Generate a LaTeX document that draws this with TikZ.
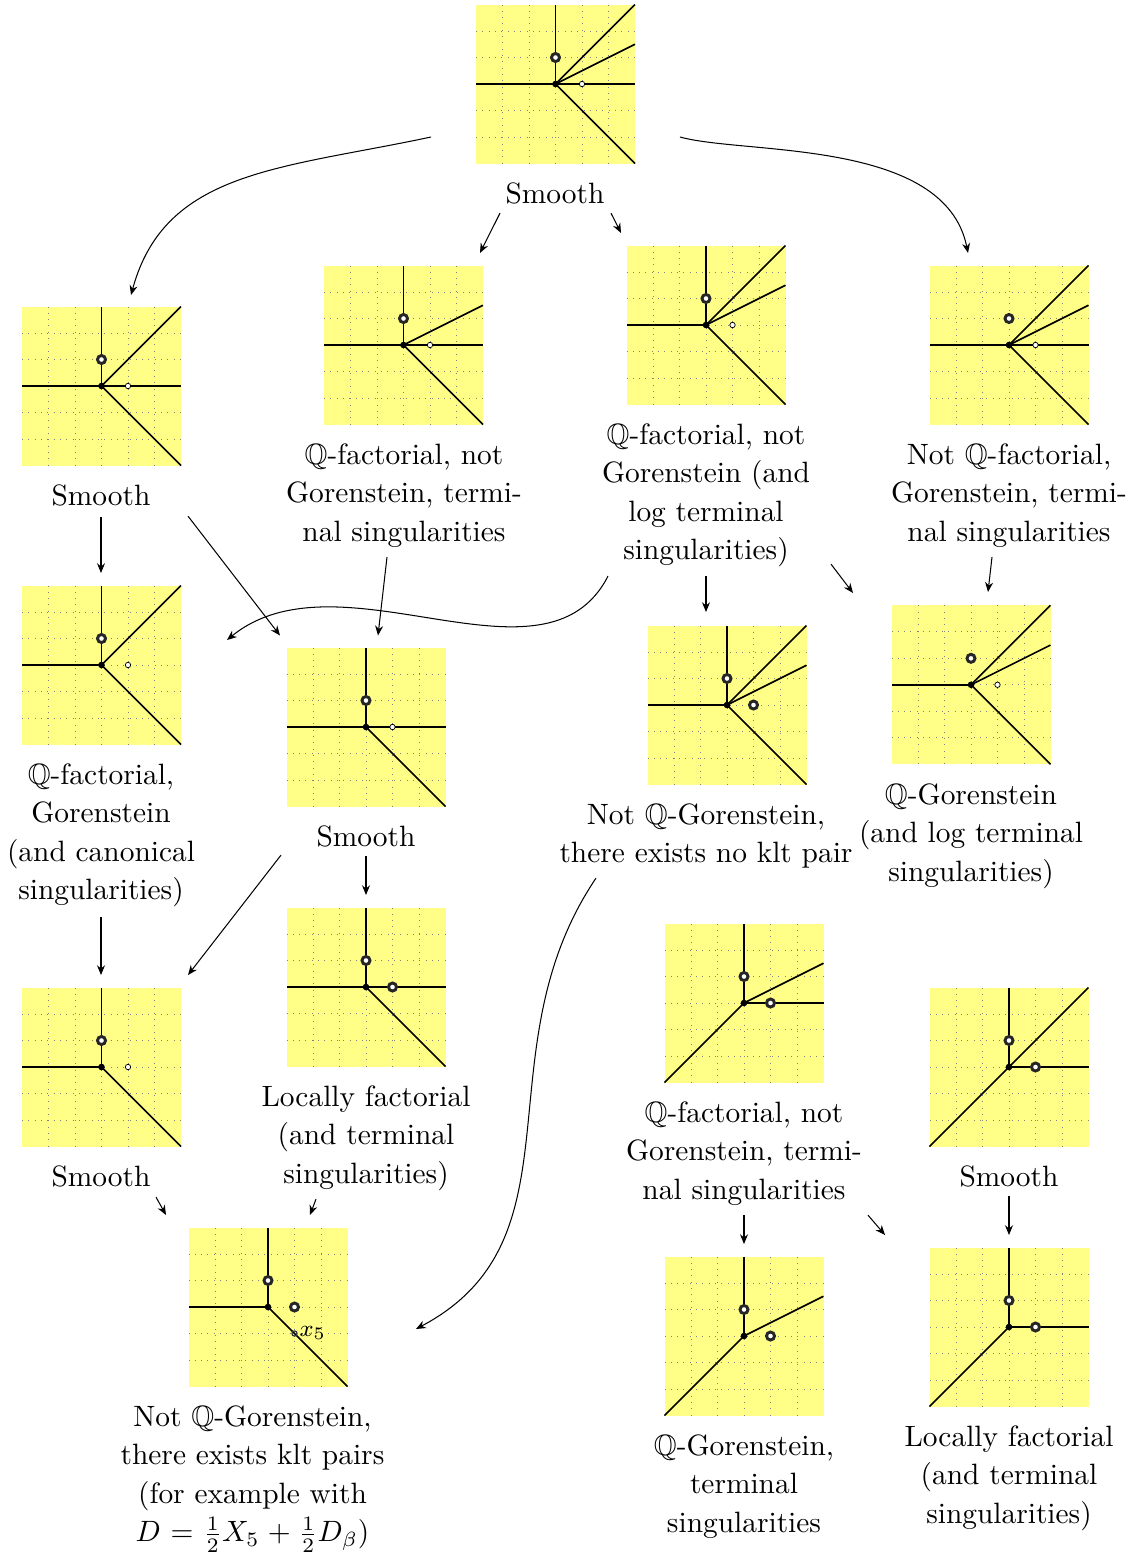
\documentclass[tikz,border=0pt]{standalone}
\usepackage{amsfonts,amssymb}
\usetikzlibrary{arrows.meta}
\definecolor{fanyellow}{HTML}{FFFF88}
\tikzset{
  fanbox/.style={fill=fanyellow,draw=none,minimum size=159*0.34pt,inner sep=0pt,outer sep=0pt},
  griddots/.style={line width=0.25pt,dash pattern=on 0.3pt off 1.85pt,black!50},
  fanray/.style={line width=0.55pt,black},
  lab/.style={anchor=north,inner sep=0pt,outer sep=0pt,align=center,font=\normalsize,yshift=0.3pt,execute at begin node={\setlength{\baselineskip}{13.09pt}}},
  arr/.style={-{Stealth[length=3.3pt,width=2.7pt]},line width=0.35pt,black}
}
\newcommand{\dpt}[1]{\fill[white] (#1) circle[radius=4];\draw[line width=1pt,black!85] (#1) circle[radius=4];}
\newcommand{\spt}[1]{\draw[fill=white,line width=0.25pt] (#1) circle[radius=2.7];}
% #1 name, #2 centre, #3 ray ends, #4 marked points
\newcommand{\fan}[4]{%
  \node[fanbox] (#1) at (#2) {};
  \begin{scope}[shift={(#2)}]
    \foreach \g in {-53,-26.5,0,26.5,53} {
      \draw[griddots] (\g,-79.5) -- (\g,79.5);
      \draw[griddots] (-79.5,\g) -- (79.5,\g);
    }
    \foreach \r in {#3} { \draw[fanray] (0,0) -- (\r); }
    \fill (0,0) circle[radius=3.3];
    #4
  \end{scope}}
\def\N{0,-79.5}\def\W{-79.5,0}\def\E{79.5,0}\def\NE{79.5,-79.5}\def\EN{79.5,-39.75}\def\SE{79.5,79.5}\def\SW{-79.5,79.5}
\def\pu{0,-26.5}\def\pr{26.5,0}
\begin{document}
\begin{tikzpicture}[x=0.34pt,y=-0.34pt]
\useasboundingbox (0,0) rectangle (1131,1556);
\fan{f1}{555.5,84}{\N,\W,\E,\NE,\EN,\SE}{\dpt{\pu}\spt{\pr}}
\fan{f2}{101.5,386}{\N,\W,\E,\NE,\SE}{\dpt{\pu}\spt{\pr}}
\fan{f3}{403.5,345}{\N,\W,\E,\EN,\SE}{\dpt{\pu}\spt{\pr}}
\fan{f4}{706,325}{\N,\W,\NE,\EN,\SE}{\dpt{\pu}\spt{\pr}}
\fan{f5}{1009,345}{\W,\E,\NE,\EN,\SE}{\dpt{\pu}\spt{\pr}}
\fan{f6}{101.5,665}{\N,\W,\NE,\SE}{\dpt{\pu}\spt{\pr}}
\fan{f7}{366,727}{\N,\W,\E,\SE}{\dpt{\pu}\spt{\pr}}
\fan{f8}{727,705}{\N,\W,\NE,\EN,\SE}{\dpt{\pu}\dpt{\pr}}
\fan{f9}{971,684.8}{\W,\NE,\EN,\SE}{\dpt{\pu}\spt{\pr}}
\fan{f10}{101.5,1067}{\N,\W,\SE}{\dpt{\pu}\spt{\pr}}
\fan{f11}{366,987}{\N,\W,\E,\SE}{\dpt{\pu}\dpt{\pr}}
\fan{f12}{744,1003}{\N,\E,\EN,\SW}{\dpt{\pu}\dpt{\pr}}
\fan{f13}{1009,1067}{\N,\E,\NE,\SW}{\dpt{\pu}\dpt{\pr}}
\fan{f14}{268,1307}{\N,\W,\SE}{\dpt{\pu}\dpt{\pr}\draw[line width=0.4pt,black!80] (26.5,26.5) circle[radius=2.6];\node[anchor=west,inner sep=0pt,font=\footnotesize] (x5) at (31,26) {$x_5$};}
\fan{f15}{744,1336}{\N,\EN,\SW}{\dpt{\pu}\dpt{\pr}}
\fan{f16}{1009,1327}{\N,\E,\SW}{\dpt{\pu}\dpt{\pr}}

\node[lab] (t1) at (555,183.5) {Smooth};
\node[lab] (t2) at (101,485.5) {Smooth};
\node[lab] (t3) at (404,444.5) {$\mathbb{Q}$-factorial, not\\Gorenstein, termi-\\nal singularities};
\node[lab] (t4) at (706,424.5) {$\mathbb{Q}$-factorial, not\\Gorenstein (and\\log terminal\\singularities)};
\node[lab] (t5) at (1009,444.5) {Not $\mathbb{Q}$-factorial,\\Gorenstein, termi-\\nal singularities};
\node[lab] (t6) at (101,764.5) {$\mathbb{Q}$-factorial,\\Gorenstein\\(and canonical\\singularities)};
\node[lab] (t7) at (366,826.5) {Smooth};
\node[lab] (t8) at (706,804.5) {Not $\mathbb{Q}$-Gorenstein,\\there exists no klt pair};
\node[lab] (t9) at (971,784.5) {$\mathbb{Q}$-Gorenstein\\(and log terminal\\singularities)};
\node[lab] (t10) at (101,1166.5) {Smooth};
\node[lab] (t11) at (366,1086.5) {Locally factorial\\(and terminal\\singularities)};
\node[lab] (t12) at (744,1102.5) {$\mathbb{Q}$-factorial, not\\Gorenstein, termi-\\nal singularities};
\node[lab] (t13) at (1009,1166.5) {Smooth};
\node[lab] (t14) at (252.5,1406.5) {Not $\mathbb{Q}$-Gorenstein,\\there exists klt pairs\\(for example with\\$D\mskip1mu=\mskip1mu\frac{1}{2}X_5\mskip1mu+\mskip1mu\frac{1}{2}D_\beta$)};
\node[lab] (t15) at (744,1435.5) {$\mathbb{Q}$-Gorenstein,\\terminal\\singularities};
\node[lab] (t16) at (1009,1426.5) {Locally factorial\\(and terminal\\singularities)};

\draw[arr] ([shift={(-124.5,53)}]f1.center) .. controls +(-150,32) and +(34,-125) .. ([shift={(29.5,-91)}]f2.center);
\draw[arr] ([shift={(-55,30.5)}]t1.north) -- ([shift={(76.5,-92)}]f3.center);
\draw[arr] ([shift={(56,30.5)}]t1.north) -- ([shift={(-85,-92)}]f4.center);
\draw[arr] ([shift={(124.5,53)}]f1.center) .. controls +(65,18) and +(-23,-115) .. ([shift={(-41,-92)}]f5.center);
\draw[arr] ([shift={(0,32.5)}]t2.north) -- ([shift={(-0.5,-92)}]f6.center);
\draw[arr] ([shift={(87,31.5)}]t2.north) -- ([shift={(-86,-91.5)}]f7.center);
\draw[arr] ([shift={(-17,113.5)}]t3.north) -- ([shift={(12,-91.5)}]f7.center);
\draw[arr] ([shift={(-98,152.5)}]t4.north) .. controls +(-63,123) and +(113,-92) .. ([shift={(125.5,-25)}]f6.center);
\draw[arr] ([shift={(0,152.5)}]t4.north) -- ([shift={(-21,-93)}]f8.center);
\draw[arr] ([shift={(125,140.5)}]t4.north) -- ([shift={(-118,-91.8)}]f9.center);
\draw[arr] ([shift={(-17,113.5)}]t5.north) -- ([shift={(17,-92.8)}]f9.center);
\draw[arr] ([shift={(0,153.5)}]t6.north) -- ([shift={(-0.5,-92)}]f10.center);
\draw[arr] ([shift={(-85,29.5)}]t7.north) -- ([shift={(86.5,-92)}]f10.center);
\draw[arr] ([shift={(0,30.5)}]t7.north) -- ([shift={(0,-92)}]f11.center);
\draw[arr] ([shift={(-110,74.5)}]t8.north) .. controls +(-116,172) and +(170,-90) .. ([shift={(148,22)}]f14.center);
\draw[arr] ([shift={(55,31.5)}]t10.north) -- ([shift={(-102,-92)}]f14.center);
\draw[arr] ([shift={(-50,113.5)}]t11.north) -- ([shift={(42,-92)}]f14.center);
\draw[arr] ([shift={(0,113.5)}]t12.north) -- ([shift={(0,-92)}]f15.center);
\draw[arr] ([shift={(124,113.5)}]t12.north) -- ([shift={(-124,-92)}]f16.center);
\draw[arr] ([shift={(0,30.5)}]t13.north) -- ([shift={(0,-92)}]f16.center);
\end{tikzpicture}
\end{document}
